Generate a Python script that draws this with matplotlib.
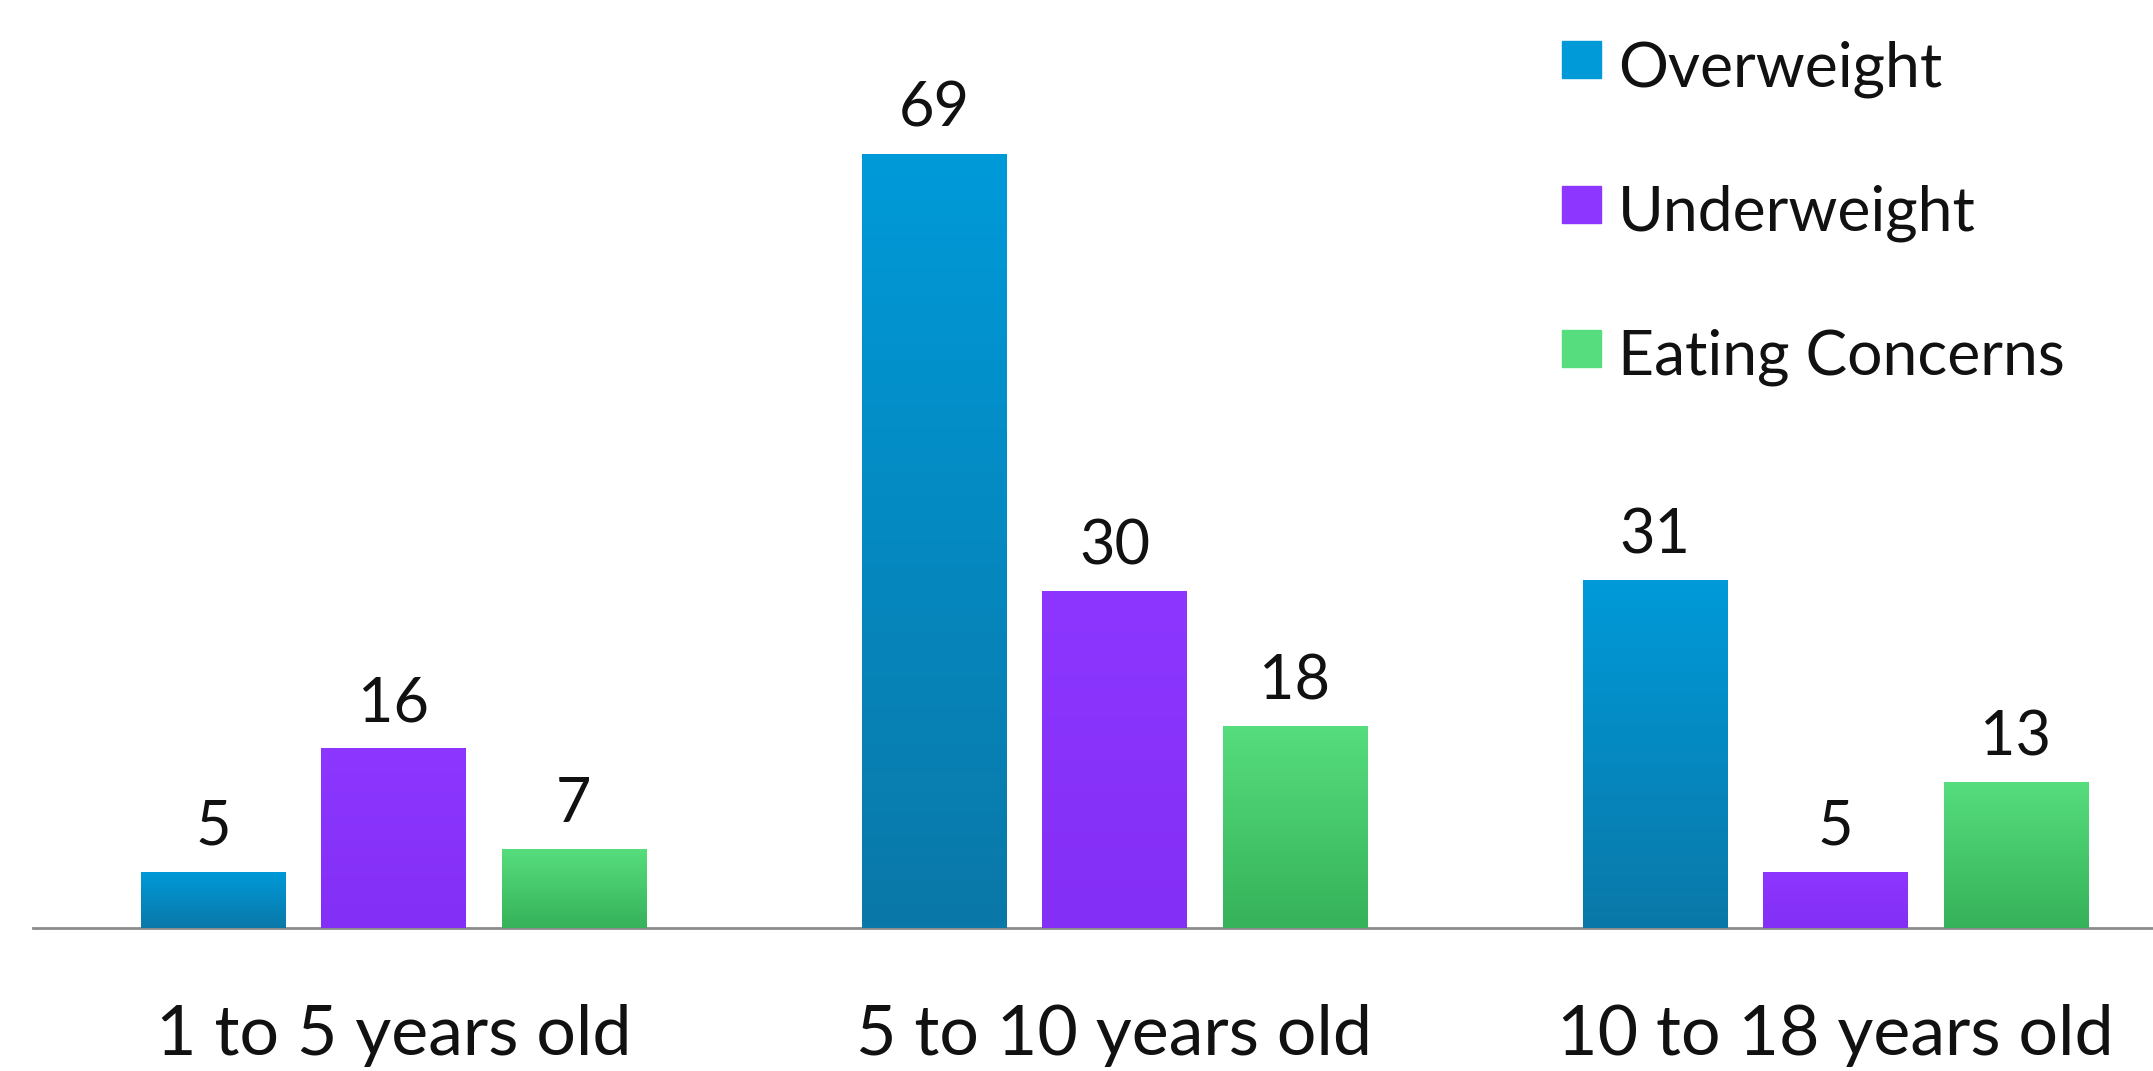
import numpy as np
import matplotlib
matplotlib.use("Agg")
import matplotlib.pyplot as plt
from matplotlib.colors import LinearSegmentedColormap
from matplotlib.patches import Rectangle

# data
age_groups = ["1 to 5 years old", "5 to 10 years old", "10 to 18 years old"]
series_names = ["Overweight", "Underweight", "Eating Concerns"]
overweight = [5, 69, 31]
underweight = [16, 30, 5]
eating_concerns = [7, 18, 13]

# (top, bottom) gradient colours per series
series_colors = [("#009AD9", "#0A78A8"), ("#8C36FF", "#842FF5"), ("#56DD7D", "#36B25A")]

W, H = 2153, 1071
plt.rcParams["font.family"] = ["Lato", "DejaVu Sans"]

fig = plt.figure(figsize=(W / 100, H / 100), dpi=100)
ax = fig.add_axes([33 / W, (H - 928) / H, 1 - 33 / W, 928 / H])

x = np.arange(len(age_groups))
bar_w = 0.2
step = 0.25

value_texts = []
legend_texts = []
for i, (name, vals) in enumerate(zip(series_names, [overweight, underweight, eating_concerns])):
    top_c, bot_c = series_colors[i]
    bars = ax.bar(x + (i - 1) * step, vals, width=bar_w, color=top_c, zorder=2)
    cmap = LinearSegmentedColormap.from_list(name, [bot_c, top_c])
    grad = np.linspace(0, 1, 256).reshape(-1, 1)
    for b, v in zip(bars, vals):
        im = ax.imshow(grad, cmap=cmap, aspect="auto", origin="lower",
                       extent=[b.get_x(), b.get_x() + b.get_width(), 0, b.get_height()],
                       zorder=3)
        im.set_clip_path(b)
        t = ax.annotate(str(v), (b.get_x() + b.get_width() / 2, v), xytext=(0, 27),
                        textcoords="offset pixels", ha="center", va="baseline",
                        fontsize=45, color="#111111")
        value_texts.append(t)

    # legend, drawn by hand
    sq_top = 41 + i * 144.5
    fig.patches.append(Rectangle((1562 / W, 1 - (sq_top + 37) / H), 39 / W, 37 / H,
                                 transform=fig.transFigure, color=top_c))
    t = fig.text(1618 / W, 1 - (sq_top + 45) / H, name, fontsize=43,
                 va="baseline", ha="left", color="#111111")
    legend_texts.append(t)

cat_texts = []
for xi, lab in zip(x, age_groups):
    t = ax.annotate(lab, (xi, 0), xytext=(0, -127), textcoords="offset pixels",
                    ha="center", va="baseline", fontsize=47, color="#111111")
    cat_texts.append(t)

ax.set_xlim(-0.5, (W - 393.5) / 721)
ax.set_ylim(0, 928 / 11.22)
for s in ["top", "right", "left"]:
    ax.spines[s].set_visible(False)
ax.spines["bottom"].set_color("#8C8C8C")
ax.spines["bottom"].set_linewidth(2)
ax.set_xticks([])
ax.set_yticks([])
ax.patch.set_alpha(0)

# scale each text group so its widths match the reference
fig.canvas.draw()
renderer = fig.canvas.get_renderer()


def fit_group(texts, ref_idx, target_px):
    w = texts[ref_idx].get_window_extent(renderer).width
    k = target_px / w
    for t in texts:
        t.set_fontsize(t.get_fontsize() * k)


fit_group(value_texts, 2, 71)      # "31"
fit_group(cat_texts, 2, 557)       # "10 to 18 years old"
fit_group(legend_texts, 2, 447)    # "Eating Concerns"

fig.savefig("out.png", dpi=100, facecolor="white")
